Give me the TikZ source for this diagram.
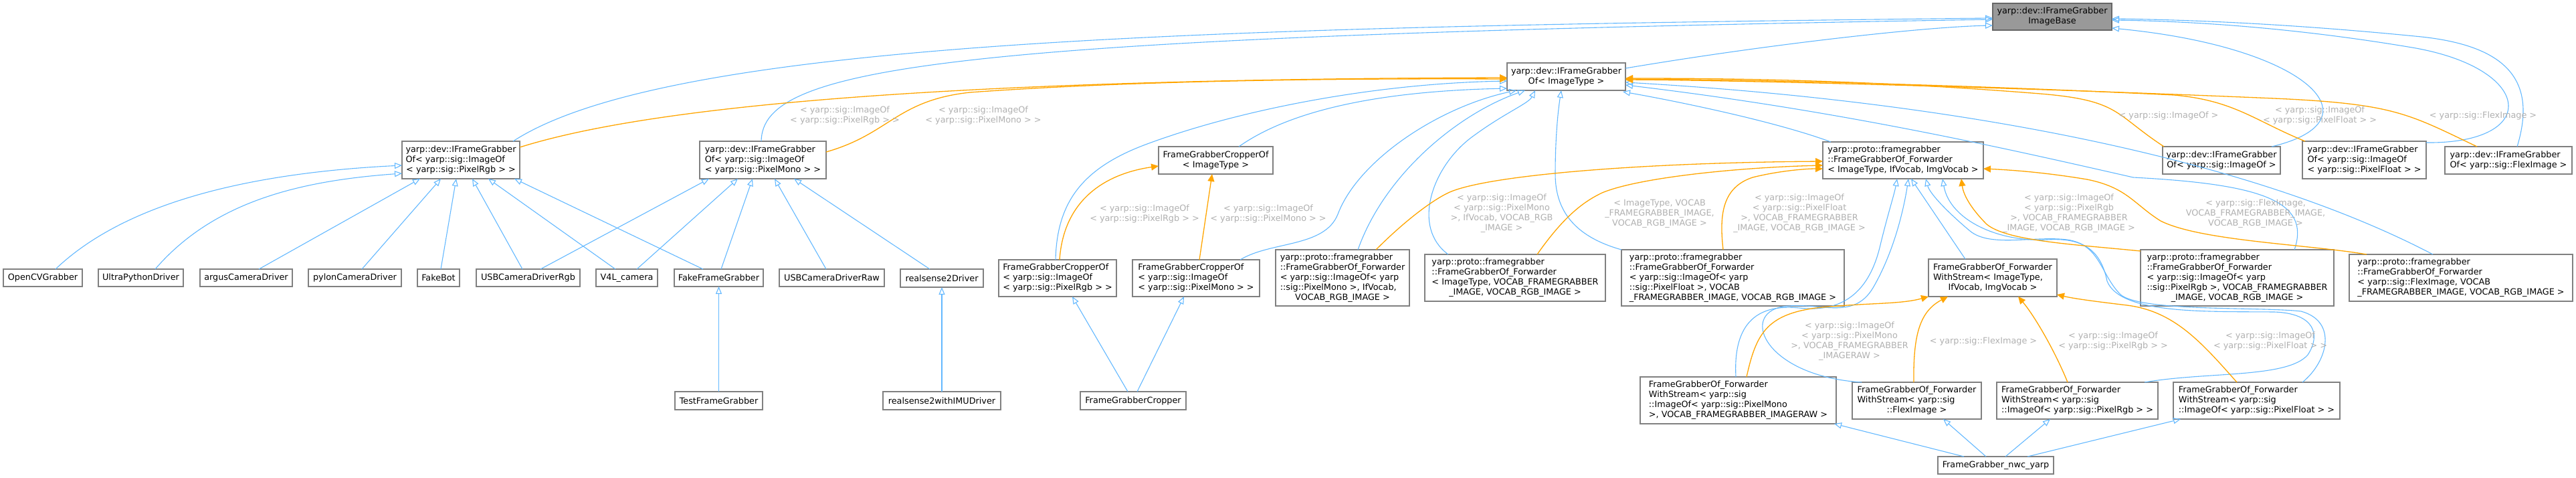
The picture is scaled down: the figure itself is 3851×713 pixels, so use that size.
\documentclass[tikz,border=0pt]{standalone}
\usepackage{fontspec}
\setmainfont{DejaVu Sans}
\usetikzlibrary{arrows.meta,calc}
\definecolor{cblue}{HTML}{63B8FF}
\definecolor{corange}{HTML}{FFA500}
\definecolor{clbl}{HTML}{B0B0B0}
\definecolor{cborder}{HTML}{808080}
\definecolor{cbase}{HTML}{999999}
\newcommand{\TL}[2]{\begin{tabular}{@{}l@{}}#1\\\multicolumn{1}{@{}c@{}}{#2}\end{tabular}}
\newcommand{\TC}[1]{\begin{tabular}{@{}c@{}}#1\end{tabular}}
\newcommand{\bx}[7][]{%
  \expandafter\xdef\csname bxX#2\endcsname{#3}%
  \expandafter\xdef\csname bxY#2\endcsname{#4}%
  \node[box,#1,minimum width={#5-#3},minimum height={#6-#4}] (#2) at ({(#3+#5)/2},{(#4+#6)/2}) {#7};}
\newcommand{\NP}[3]{($(#1.north west)+({#2-\csname bxX#1\endcsname},{#3-\csname bxY#1\endcsname})$)}
\tikzset{
  box/.style={draw=cborder,fill=white,line width=1.2pt,inner sep=0pt,outer sep=0pt,font=\fontsize{12.8}{15}\selectfont},
  lbl/.style={text=clbl,inner sep=0pt,font=\fontsize{12.8}{15}\selectfont},
  inh/.style={draw=cblue,line width=1.1pt,-{Triangle[open,length=11pt,width=9pt]}},
  tmpl/.style={draw=corange,line width=1.3pt,-{Triangle[length=11pt,width=10pt,fill=corange]}}
}
\begin{document}
\begin{tikzpicture}[x=1pt,y=-1pt]
\path[use as bounding box] (0,0) rectangle (3851,713);
% nodes
\bx[fill=cbase,draw=black!60]{base}{2979}{5}{3157}{45}{\TC{yarp::dev::IFrameGrabber\\ImageBase}}
\bx{ifgit}{2253}{94}{2430}{135}{\TC{yarp::dev::IFrameGrabber\\Of< ImageType >}}
\bx{ifgrgb}{601}{211}{777}{267}{\TL{yarp::dev::IFrameGrabber\\Of< yarp::sig::ImageOf}{< yarp::sig::PixelRgb > >}}
\bx{ifgmono}{1046}{211}{1235}{267}{\TL{yarp::dev::IFrameGrabber\\Of< yarp::sig::ImageOf}{< yarp::sig::PixelMono > >}}
\bx{opencv}{5}{402}{123}{428}{OpenCVGrabber}
\bx{ultra}{147}{402}{274}{428}{UltraPythonDriver}
\bx{argus}{299}{402}{437}{428}{argusCameraDriver}
\bx{pylon}{461}{402}{600}{428}{pylonCameraDriver}
\bx{fakebot}{624}{402}{687}{428}{FakeBot}
\bx{usbrgb}{712}{402}{867}{428}{USBCameraDriverRgb}
\bx{v4l}{891}{402}{983}{428}{V4L\_camera}
\bx{fakefg}{1008}{402}{1141}{428}{FakeFrameGrabber}
\bx{usbraw}{1165}{402}{1322}{428}{USBCameraDriverRaw}
\bx{rs2}{1346}{402}{1470}{429}{realsense2Driver}
\bx{testfg}{1009}{585}{1140}{612}{TestFrameGrabber}
\bx{rs2imu}{1320}{585}{1496}{612}{realsense2withIMUDriver}
\bx{fgcropper}{1615}{585}{1773}{612}{FrameGrabberCropper}
\bx{cropit}{1732}{219}{1903}{260}{\TC{FrameGrabberCropperOf\\< ImageType >}}
\bx{croprgb}{1493}{388}{1669}{443}{\TL{FrameGrabberCropperOf\\< yarp::sig::ImageOf}{< yarp::sig::PixelRgb > >}}
\bx{cropmono}{1693}{388}{1883}{443}{\TL{FrameGrabberCropperOf\\< yarp::sig::ImageOf}{< yarp::sig::PixelMono > >}}
\bx{fwmono}{1907}{373}{2107}{457}{\TL{yarp::proto::framegrabber\\::FrameGrabberOf\_Forwarder\\< yarp::sig::ImageOf< yarp\\::sig::PixelMono >, IfVocab,}{VOCAB\_RGB\_IMAGE >}}
\bx{fwitv}{2130}{380}{2400}{450}{\TL{yarp::proto::framegrabber\\::FrameGrabberOf\_Forwarder\\< ImageType, VOCAB\_FRAMEGRABBER}{\_IMAGE, VOCAB\_RGB\_IMAGE >}}
\bx{fwfloat}{2424}{373}{2757}{457}{\TL{yarp::proto::framegrabber\\::FrameGrabberOf\_Forwarder\\< yarp::sig::ImageOf< yarp\\::sig::PixelFloat >, VOCAB}{\_FRAMEGRABBER\_IMAGE, VOCAB\_RGB\_IMAGE >}}
\bx{fwit}{2725}{212}{2965}{267}{\TL{yarp::proto::framegrabber\\::FrameGrabberOf\_Forwarder}{< ImageType, IfVocab, ImgVocab >}}
\bx{ifgimg}{3233}{219}{3409}{260}{\TL{yarp::dev::IFrameGrabber}{Of< yarp::sig::ImageOf >}}
\bx{ifgfloat}{3442}{211}{3627}{267}{\TL{yarp::dev::IFrameGrabber\\Of< yarp::sig::ImageOf}{< yarp::sig::PixelFloat > >}}
\bx{ifgflex}{3655}{219}{3845}{260}{\TL{yarp::dev::IFrameGrabber}{Of< yarp::sig::FlexImage >}}
\bx{wsit}{2883}{387}{3075}{443}{\TL{FrameGrabberOf\_Forwarder\\WithStream< ImageType,}{IfVocab, ImgVocab >}}
\bx{fwrgb}{3200}{373}{3489}{457}{\TL{yarp::proto::framegrabber\\::FrameGrabberOf\_Forwarder\\< yarp::sig::ImageOf< yarp\\::sig::PixelRgb >, VOCAB\_FRAMEGRABBER}{\_IMAGE, VOCAB\_RGB\_IMAGE >}}
\bx{fwflex}{3512}{380}{3846}{450}{\TL{yarp::proto::framegrabber\\::FrameGrabberOf\_Forwarder\\< yarp::sig::FlexImage, VOCAB}{\_FRAMEGRABBER\_IMAGE, VOCAB\_RGB\_IMAGE >}}
\bx{wsmono}{2452}{563}{2745}{633}{\TL{FrameGrabberOf\_Forwarder\\WithStream< yarp::sig\\::ImageOf< yarp::sig::PixelMono}{>, VOCAB\_FRAMEGRABBER\_IMAGERAW >}}
\bx{wsflex}{2769}{571}{2962}{626}{\TL{FrameGrabberOf\_Forwarder\\WithStream< yarp::sig}{::FlexImage >}}
\bx{wsrgb}{2985}{571}{3226}{626}{\TL{FrameGrabberOf\_Forwarder\\WithStream< yarp::sig}{::ImageOf< yarp::sig::PixelRgb > >}}
\bx{wsfloat}{3249}{571}{3498}{626}{\TL{FrameGrabberOf\_Forwarder\\WithStream< yarp::sig}{::ImageOf< yarp::sig::PixelFloat > >}}
\bx{nwc}{2897}{682}{3070}{708}{FrameGrabber\_nwc\_yarp}
% inheritance edges to base
\draw[inh] \NP{ifgit}{2430}{102} .. controls (2650,65) and (2880,40) .. \NP{base}{2979}{38};
\draw[inh] \NP{ifgrgb}{767}{211} .. controls (1000,60) and (1800,40) .. \NP{base}{2979}{27};
\draw[inh] \NP{ifgmono}{1138}{211} .. controls (1140,100) and (1400,55) .. \NP{base}{2979}{29};
\draw[inh] \NP{ifgimg}{3396}{219} .. controls (3560,180) and (3450,70) .. \NP{base}{3157}{42};
\draw[inh] \NP{ifgfloat}{3627}{213} .. controls (3800,215) and (3790,100) .. (3600,70) .. controls (3450,45) and (3300,32) .. \NP{base}{3157}{30};
\draw[inh] \NP{ifgflex}{3763}{219} .. controls (3790,130) and (3760,70) .. (3620,55) .. controls (3450,38) and (3300,30) .. \NP{base}{3157}{28};
% inheritance edges to IFrameGrabberOf<ImageType>
\draw[inh] \NP{cropit}{1852}{219} .. controls (1950,150) and (2120,135) .. \NP{ifgit}{2253}{132};
\draw[inh] \NP{croprgb}{1578}{388} .. controls (1580,300) and (1620,250) .. (1715,215) .. controls (1850,165) and (2050,125) .. \NP{ifgit}{2253}{121};
\draw[inh] \NP{cropmono}{1854}{388} .. controls (1900,360) and (1980,370) .. (2000,320) .. controls (2030,240) and (2150,160) .. \NP{ifgit}{2267}{135};
\draw[inh] \NP{fwmono}{2030}{373} .. controls (2070,260) and (2180,170) .. \NP{ifgit}{2280}{135};
\draw[inh] \NP{fwitv}{2165}{380} .. controls (2110,340) and (2140,250) .. (2200,205) .. controls (2250,168) and (2285,155) .. \NP{ifgit}{2295}{135};
\draw[inh] \NP{fwfloat}{2424}{373} .. controls (2360,355) and (2325,320) .. (2325,260) .. controls (2325,200) and (2330,160) .. \NP{ifgit}{2334}{135};
\draw[inh] \NP{fwit}{2737}{212} .. controls (2650,180) and (2500,150) .. \NP{ifgit}{2426}{137};
\draw[inh] \NP{fwrgb}{3430}{373} .. controls (3455,300) and (3380,275) .. (3189,265) .. controls (3000,222) and (2750,165) .. \NP{ifgit}{2430}{127};
\draw[inh] \NP{fwflex}{3637}{380} .. controls (3350,230) and (2900,150) .. \NP{ifgit}{2430}{123};
% inheritance edges to Forwarder<ImageType, IfVocab, ImgVocab>
\draw[inh] \NP{wsit}{2938}{387} -- \NP{fwit}{2857}{267};
\draw[inh] \NP{wsmono}{2595}{563} .. controls (2590,470) and (2640,455) .. (2690,460) .. controls (2760,468) and (2795,430) .. (2810,370) .. controls (2822,320) and (2832,290) .. \NP{fwit}{2836}{267};
\draw[inh] \NP{wsflex}{2783}{571} .. controls (2640,562) and (2600,470) .. (2665,458) .. controls (2720,450) and (2770,480) .. (2800,430) .. controls (2835,370) and (2848,300) .. \NP{fwit}{2853}{267};
\draw[inh] \NP{wsrgb}{3206}{571} .. controls (3300,555) and (3420,565) .. (3450,530) .. controls (3470,500) and (3460,468) .. (3400,466) .. controls (3300,465) and (3170,470) .. (3150,420) .. controls (3140,370) and (3110,355) .. (3060,358) .. controls (2990,362) and (2915,330) .. \NP{fwit}{2904}{267};
\draw[inh] \NP{wsfloat}{3442}{571} .. controls (3480,540) and (3495,480) .. (3440,465) .. controls (3380,458) and (3200,466) .. (3170,440) .. controls (3140,410) and (3140,365) .. (3090,358) .. controls (3040,352) and (2975,370) .. (2945,345) .. controls (2915,320) and (2885,290) .. \NP{fwit}{2879}{267};
% nwc
\draw[inh] \NP{nwc}{2936}{682} -- \NP{wsmono}{2742}{633};
\draw[inh] \NP{nwc}{2969}{682} -- \NP{wsflex}{2905}{626};
\draw[inh] \NP{nwc}{2998}{682} -- \NP{wsrgb}{3065}{626};
\draw[inh] \NP{nwc}{3031}{682} -- \NP{wsfloat}{3260}{626};
% croppers and singles
\draw[inh] \NP{fgcropper}{1686}{585} -- \NP{croprgb}{1603}{443};
\draw[inh] \NP{fgcropper}{1700}{585} -- \NP{cropmono}{1770}{443};
\draw[inh] (rs2imu.north) -- (rs2.south);
\draw[inh] (testfg.north) -- (fakefg.south);
% leaves
\draw[inh] \NP{opencv}{83}{402} .. controls (190,300) and (380,258) .. \NP{ifgrgb}{601}{247};
\draw[inh] \NP{ultra}{232}{402} .. controls (320,300) and (450,270) .. \NP{ifgrgb}{601}{259};
\draw[inh] \NP{argus}{387}{402} -- \NP{ifgrgb}{628}{267};
\draw[inh] \NP{pylon}{541}{402} -- \NP{ifgrgb}{659}{267};
\draw[inh] \NP{fakebot}{659}{402} -- \NP{ifgrgb}{682}{267};
\draw[inh] \NP{usbrgb}{781}{402} -- \NP{ifgrgb}{706}{267};
\draw[inh] \NP{v4l}{920}{402} -- \NP{ifgrgb}{730}{267};
\draw[inh] \NP{fakefg}{1051}{402} -- \NP{ifgrgb}{769}{267};
\draw[inh] \NP{usbrgb}{808}{402} -- \NP{ifgmono}{1060}{267};
\draw[inh] \NP{v4l}{952}{402} -- \NP{ifgmono}{1103}{267};
\draw[inh] \NP{fakefg}{1078}{402} -- \NP{ifgmono}{1125}{267};
\draw[inh] \NP{usbraw}{1235}{402} -- \NP{ifgmono}{1158}{267};
\draw[inh] \NP{rs2}{1390}{402} -- \NP{ifgmono}{1187}{267};
% template edges
\draw[tmpl] \NP{ifgrgb}{777}{220} .. controls (1000,150) and (1500,118) .. \NP{ifgit}{2253}{116};
\draw[tmpl] \NP{ifgmono}{1235}{227} .. controls (1330,200) and (1340,150) .. (1450,138) .. controls (1700,120) and (2000,117) .. \NP{ifgit}{2253}{118};
\draw[tmpl] \NP{ifgimg}{3235}{219} .. controls (3160,170) and (3170,150) .. (3050,140) .. controls (2800,120) and (2600,117) .. \NP{ifgit}{2430}{117};
\draw[tmpl] \NP{ifgfloat}{3446}{211} .. controls (3370,180) and (3340,150) .. (3250,142) .. controls (2900,125) and (2600,119) .. \NP{ifgit}{2430}{118};
\draw[tmpl] \NP{ifgflex}{3703}{219} .. controls (3600,170) and (3580,155) .. (3400,147) .. controls (3000,130) and (2600,120) .. \NP{ifgit}{2430}{119};
\draw[tmpl] \NP{croprgb}{1584}{388} .. controls (1590,300) and (1650,260) .. \NP{cropit}{1732}{248};
\draw[tmpl] \NP{cropmono}{1793}{388} -- \NP{cropit}{1812}{260};
\draw[tmpl] \NP{fwmono}{2057}{373} .. controls (2100,330) and (2140,300) .. (2165,288) .. controls (2220,262) and (2450,243) .. \NP{fwit}{2725}{241};
\draw[tmpl] \NP{fwitv}{2298}{380} .. controls (2340,320) and (2370,300) .. (2395,288) .. controls (2450,265) and (2600,250) .. \NP{fwit}{2725}{247};
\draw[tmpl] \NP{fwfloat}{2576}{373} .. controls (2570,320) and (2575,280) .. (2620,265) .. controls (2660,255) and (2700,252) .. \NP{fwit}{2725}{252};
\draw[tmpl] \NP{fwrgb}{3200}{375} .. controls (3100,365) and (3000,360) .. (2970,335) .. controls (2945,310) and (2935,290) .. \NP{fwit}{2932}{267};
\draw[tmpl] \NP{fwflex}{3538}{380} .. controls (3450,365) and (3290,360) .. (3230,330) .. controls (3190,305) and (3180,280) .. (3120,268) .. controls (3060,258) and (3010,254) .. \NP{fwit}{2965}{252};
\draw[tmpl] \NP{wsmono}{2611}{563} .. controls (2625,500) and (2640,470) .. (2715,460) .. controls (2790,452) and (2840,455) .. \NP{wsit}{2883}{443};
\draw[tmpl] \NP{wsflex}{2861}{571} .. controls (2860,500) and (2870,465) .. \NP{wsit}{2912}{443};
\draw[tmpl] \NP{wsrgb}{3091}{571} .. controls (3070,520) and (3040,470) .. \NP{wsit}{3017}{443};
\draw[tmpl] \NP{wsfloat}{3344}{571} .. controls (3290,510) and (3250,465) .. (3180,456) .. controls (3130,450) and (3100,446) .. \NP{wsit}{3075}{440};
% labels
\node[lbl] (t1) at (1263,172.5) {\TC{< yarp::sig::ImageOf\\< yarp::sig::PixelRgb > >}};
\node[lbl] (t2) at (1470,172.5) {\TC{< yarp::sig::ImageOf\\< yarp::sig::PixelMono > >}};
\node[lbl] (t3) at (3242,173) {< yarp::sig::ImageOf >};
\node[lbl] (t4) at (3468,172.5) {\TC{< yarp::sig::ImageOf\\< yarp::sig::PixelFloat > >}};
\node[lbl] (t5) at (3712,173) {< yarp::sig::FlexImage >};
\node[lbl] (t6) at (1711,320) {\TC{< yarp::sig::ImageOf\\< yarp::sig::PixelRgb > >}};
\node[lbl] (t7) at (1896,320) {\TC{< yarp::sig::ImageOf\\< yarp::sig::PixelMono > >}};
\node[lbl] (t8) at (2245,319) {\TC{< yarp::sig::ImageOf\\< yarp::sig::PixelMono\\>, IfVocab, VOCAB\_RGB\\\_IMAGE >}};
\node[lbl] (t9) at (2481,319) {\TC{< ImageType, VOCAB\\\_FRAMEGRABBER\_IMAGE,\\VOCAB\_RGB\_IMAGE >}};
\node[lbl] (t10) at (2690,319) {\TC{< yarp::sig::ImageOf\\< yarp::sig::PixelFloat\\>, VOCAB\_FRAMEGRABBER\\\_IMAGE, VOCAB\_RGB\_IMAGE >}};
\node[lbl] (t11) at (3093,319) {\TC{< yarp::sig::ImageOf\\< yarp::sig::PixelRgb\\>, VOCAB\_FRAMEGRABBER\\\_IMAGE, VOCAB\_RGB\_IMAGE >}};
\node[lbl] (t12) at (3372,319) {\TC{< yarp::sig::FlexImage,\\VOCAB\_FRAMEGRABBER\_IMAGE,\\VOCAB\_RGB\_IMAGE >}};
\node[lbl] (t13) at (2765,510) {\TC{< yarp::sig::ImageOf\\< yarp::sig::PixelMono\\>, VOCAB\_FRAMEGRABBER\\\_IMAGERAW >}};
\node[lbl] (t14) at (2965,510) {< yarp::sig::FlexImage >};
\node[lbl] (t15) at (3159,510) {\TC{< yarp::sig::ImageOf\\< yarp::sig::PixelRgb > >}};
\node[lbl] (t16) at (3394,510) {\TC{< yarp::sig::ImageOf\\< yarp::sig::PixelFloat > >}};
\end{tikzpicture}
\end{document}
